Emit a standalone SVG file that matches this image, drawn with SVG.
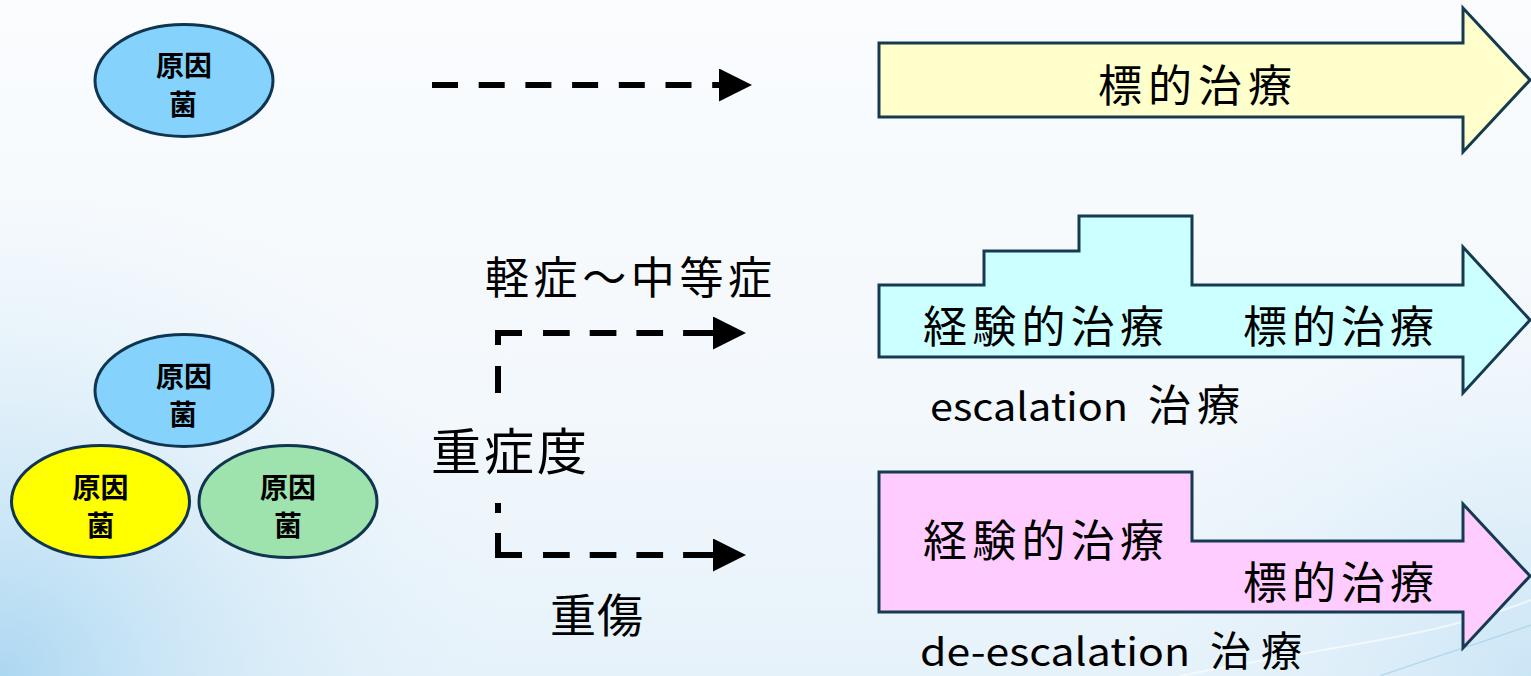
<svg xmlns="http://www.w3.org/2000/svg" width="1531" height="676" viewBox="0 0 1531 676">
<defs>
<linearGradient id="bg" x1="0" y1="0" x2="0" y2="1">
<stop offset="0" stop-color="#fafcfe"/>
<stop offset="0.6" stop-color="#f3f8fc"/>
<stop offset="1" stop-color="#e6f2fa"/>
</linearGradient>
<radialGradient id="bl" cx="0" cy="676" r="520" gradientUnits="userSpaceOnUse">
<stop offset="0" stop-color="#a9d6f1" stop-opacity="0.95"/>
<stop offset="0.5" stop-color="#c9e5f6" stop-opacity="0.5"/>
<stop offset="1" stop-color="#e8f3fb" stop-opacity="0"/>
</radialGradient>
<radialGradient id="br" cx="1531" cy="676" r="420" gradientUnits="userSpaceOnUse">
<stop offset="0" stop-color="#c4e2f5" stop-opacity="0.8"/>
<stop offset="1" stop-color="#e8f3fb" stop-opacity="0"/>
</radialGradient>
<marker id="ah" markerUnits="userSpaceOnUse" markerWidth="34" markerHeight="34" refX="0" refY="16.5" orient="auto">
<path d="M0,0 L33,16.5 L0,33 Z" fill="#000"/>
</marker>
<style>
.ell{stroke:#0f3550;stroke-width:3}
.et{font-family:"Noto Sans CJK JP","Noto Sans CJK SC",sans-serif;font-weight:bold;font-size:28px;fill:#000;dominant-baseline:central;text-anchor:middle}
.big{stroke:#163a50;stroke-width:3;stroke-linejoin:miter}
.jt{font-family:"Noto Sans CJK JP","Noto Sans CJK SC",sans-serif;font-size:44px;fill:#000;dominant-baseline:central}
.lt{font-family:"Noto Sans CJK JP","Noto Sans CJK SC",sans-serif;font-size:38px;fill:#000}
.dash{fill:none;stroke:#000;stroke-width:6;stroke-linejoin:miter;stroke-linecap:butt}
</style>
</defs>
<rect x="0" y="0" width="1531" height="676" fill="url(#bg)"/>
<rect x="0" y="0" width="1531" height="676" fill="url(#bl)"/>
<rect x="0" y="0" width="1531" height="676" fill="url(#br)"/>
<path d="M1180,676 C1300,650 1430,640 1531,600" fill="none" stroke="#ffffff" stroke-opacity="0.6" stroke-width="2"/>
<path d="M1380,676 C1440,655 1490,640 1531,625" fill="none" stroke="#7fb6dc" stroke-opacity="0.35" stroke-width="1.5"/>

<g id="pathogen-top">
<ellipse class="ell" cx="184" cy="80.5" rx="89" ry="56" fill="#85d3fd"/>
<text class="et" x="184" y="64">原因</text>
<text class="et" x="183" y="103">菌</text>
</g>
<g id="pathogen-blue">
<ellipse class="ell" cx="184" cy="390.5" rx="89" ry="56" fill="#85d3fd"/>
<text class="et" x="184" y="375">原因</text>
<text class="et" x="183" y="413">菌</text>
</g>
<g id="pathogen-yellow">
<ellipse class="ell" cx="100.5" cy="501.5" rx="89" ry="56" fill="#ffff00"/>
<text class="et" x="100.5" y="486">原因</text>
<text class="et" x="100.5" y="524">菌</text>
</g>
<g id="pathogen-green">
<ellipse class="ell" cx="288" cy="501.5" rx="89" ry="56" fill="#9ee2ae"/>
<text class="et" x="288" y="486">原因</text>
<text class="et" x="288" y="524">菌</text>
</g>

<g id="connectors">
<path class="dash" d="M432,85 H719" stroke-dasharray="26 20.7" marker-end="url(#ah)"/>
<path class="dash" d="M498,393 V333 H713" stroke-dasharray="27 21 36 21 26.7 20 26.7 20 26.7 20 30" marker-end="url(#ah)"/>
<path class="dash" d="M498,503 V555 H713" stroke-dasharray="10 20 46 21 26.7 20 26.7 20 26.7 20 30" marker-end="url(#ah)"/>
</g>

<g id="severity-labels">
<text class="jt" x="485" y="275" textLength="287" lengthAdjust="spacing">軽症～中等症</text>
<text class="jt" x="431" y="448" style="font-size:50px" textLength="156" lengthAdjust="spacing">重症度</text>
<text class="jt" x="550" y="612" style="font-size:46px" textLength="93" lengthAdjust="spacing">重傷</text>
</g>

<g id="arrow-targeted">
<path class="big" d="M879,43 H1463 V8 L1530,80 L1463,152 V117 H879 Z" fill="#ffffcc"/>
<text class="jt" x="1098" y="83" textLength="194" lengthAdjust="spacing">標的治療</text>
</g>

<g id="arrow-escalation">
<path class="big" d="M879,285 H984 V251 H1079 V216 H1192 V285 H1463 V247 L1530,320 L1463,393 V357 H879 Z" fill="#ccffff"/>
<text class="jt" x="923" y="324" textLength="241" lengthAdjust="spacing">経験的治療</text>
<text class="jt" x="1243" y="324" textLength="191" lengthAdjust="spacing">標的治療</text>
<text class="lt" x="930" y="421" textLength="198" lengthAdjust="spacingAndGlyphs">escalation</text>
<text class="lt" x="1148" y="421" style="font-size:43px" textLength="92" lengthAdjust="spacing">治療</text>
</g>

<g id="arrow-deescalation">
<path class="big" d="M879,472 H1192 V541 H1463 V504 L1530,576 L1463,648 V612 H879 Z" fill="#ffccff"/>
<text class="jt" x="923" y="538" textLength="241" lengthAdjust="spacing">経験的治療</text>
<text class="jt" x="1243" y="580" textLength="191" lengthAdjust="spacing">標的治療</text>
<text class="lt" x="920" y="666" textLength="270" lengthAdjust="spacingAndGlyphs">de-escalation</text>
<text class="lt" x="1210" y="666" style="font-size:41px" textLength="92" lengthAdjust="spacing">治療</text>
</g>
</svg>
